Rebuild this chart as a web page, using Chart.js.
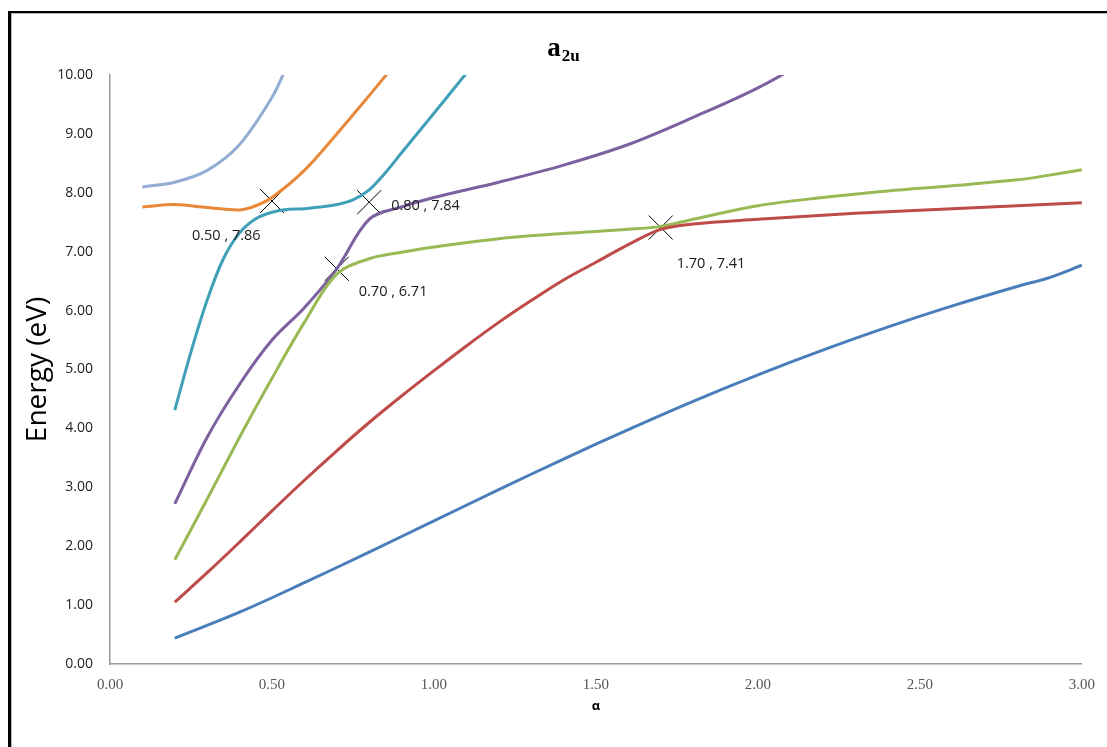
<!DOCTYPE html>
<html>
<head>
<meta charset="utf-8">
<script src="https://cdn.jsdelivr.net/npm/chart.js@4/dist/chart.umd.min.js"></script>
<style>
  html, body { margin: 0; padding: 0; background: #fff; }
  #wrap { position: relative; width: 1107px; height: 747px; }
</style>
</head>
<body>
<div id="wrap"><canvas id="c" width="1107" height="747"></canvas></div>
<script>
// Energy levels (eV) of the a2u states versus alpha
const alphaBlue   = [0.2, 0.4, 0.6, 0.8, 1.0, 1.2, 1.4, 1.6, 1.8, 2.0, 2.2, 2.4, 2.6, 2.8, 2.9, 3.0];
const energyBlue  = [0.44, 0.88, 1.38, 1.90, 2.43, 2.96, 3.48, 3.98, 4.46, 4.91, 5.33, 5.72, 6.08, 6.41, 6.56, 6.77];

const alphaRed    = [0.2, 0.3, 0.4, 0.5, 0.6, 0.7, 0.8, 0.9, 1.0, 1.1, 1.2, 1.3, 1.4, 1.5, 1.6, 1.7, 1.8, 2.0, 2.2, 2.4, 2.6, 2.8, 3.0];
const energyRed   = [1.05, 1.55, 2.07, 2.60, 3.12, 3.62, 4.10, 4.55, 4.98, 5.40, 5.80, 6.17, 6.52, 6.82, 7.12, 7.38, 7.47, 7.55, 7.62, 7.68, 7.73, 7.78, 7.83];

const alphaGreen  = [0.2, 0.3, 0.4, 0.5, 0.6, 0.7, 0.8, 0.9, 1.0, 1.2, 1.4, 1.6, 1.7, 1.8, 2.0, 2.2, 2.4, 2.6, 2.8, 2.9, 3.0];
const energyGreen = [1.77, 2.80, 3.85, 4.85, 5.80, 6.62, 6.88, 6.99, 7.08, 7.22, 7.31, 7.38, 7.43, 7.55, 7.78, 7.92, 8.03, 8.12, 8.22, 8.30, 8.39];

const alphaPurple  = [0.2, 0.3, 0.4, 0.5, 0.6, 0.7, 0.8, 0.9, 1.0, 1.2, 1.4, 1.6, 1.8, 2.0, 2.2];
const energyPurple = [2.72, 3.85, 4.75, 5.50, 6.05, 6.71, 7.55, 7.76, 7.92, 8.18, 8.47, 8.82, 9.28, 9.78, 10.40];

const alphaCyan   = [0.2, 0.25, 0.3, 0.35, 0.4, 0.45, 0.5, 0.55, 0.6, 0.65, 0.7, 0.75, 0.8, 0.85, 0.9, 1.0, 1.1];
const energyCyan  = [4.31, 5.30, 6.18, 6.88, 7.32, 7.56, 7.67, 7.72, 7.73, 7.76, 7.80, 7.88, 8.05, 8.34, 8.68, 9.35, 10.03];

const alphaOrange  = [0.1, 0.2, 0.3, 0.4, 0.45, 0.5, 0.6, 0.7, 0.8, 0.86];
const energyOrange = [7.76, 7.80, 7.75, 7.71, 7.78, 7.92, 8.38, 9.00, 9.65, 10.05];

const alphaSky    = [0.1, 0.2, 0.3, 0.4, 0.5, 0.55];
const energySky   = [8.10, 8.18, 8.38, 8.82, 9.62, 10.20];

// Marked crossing points
const crossAlpha  = [0.50, 0.80, 0.70, 1.70];
const crossEnergy = [7.86, 7.84, 6.71, 7.41];

// Axis ticks
const xTicks = [0, 0.5, 1.0, 1.5, 2.0, 2.5, 3.0];
const yTicks = [0, 1, 2, 3, 4, 5, 6, 7, 8, 9, 10];

// Label placement for each crossing point (pixel offset of the text's left/middle)
const crossLabelOffsets = [[-80, 35], [22, 4], [22, 23], [16, 36]];

function pts(xs, ys) { return xs.map((x, i) => ({ x: x, y: ys[i] })); }

function curve(xs, ys, color) {
  return {
    data: pts(xs, ys),
    showLine: true,
    borderColor: color,
    backgroundColor: color,
    borderWidth: 3,
    pointRadius: 0,
    pointHoverRadius: 0,
    tension: 0.35,
    fill: false
  };
}

const framePlugin = {
  id: 'frame',
  beforeDraw(chart) {
    const ctx = chart.ctx;
    ctx.save();
    ctx.fillStyle = '#fff';
    ctx.fillRect(0, 0, chart.width, chart.height);
    ctx.fillStyle = '#000';
    ctx.fillRect(8, 11, 3, chart.height - 11);
    ctx.fillRect(8, 11, chart.width - 8, 2);
    ctx.fillStyle = '#b4b4b4';
    ctx.fillRect(11, 13, 1, chart.height - 13);
    ctx.fillRect(11, 13, chart.width - 11, 1);
    ctx.restore();
  },
  afterDraw(chart) {
    const ctx = chart.ctx;
    const xs = chart.scales.x, ys = chart.scales.y;
    ctx.save();
    // title a with subscript 2u
    ctx.fillStyle = '#000';
    ctx.textBaseline = 'alphabetic';
    const big = 'bold 27px "Liberation Serif", "DejaVu Serif", serif';
    const small = 'bold 17px "Liberation Serif", "DejaVu Serif", serif';
    ctx.font = big;
    const wA = ctx.measureText('a').width;
    ctx.font = small;
    const wS = ctx.measureText('2u').width;
    const x0 = 563 - (wA + wS) / 2;
    ctx.font = big;
    ctx.fillText('a', x0, 56);
    ctx.font = small;
    ctx.fillText('2u', x0 + wA + 1, 61);

    // crossing labels
    ctx.font = '14.5px "Open Sans", "Noto Sans", sans-serif';
    ctx.textAlign = 'left';
    ctx.textBaseline = 'middle';
    ctx.fillStyle = '#1a1a1a';
    crossAlpha.forEach((a, i) => {
      const px = xs.getPixelForValue(a);
      const py = ys.getPixelForValue(crossEnergy[i]);
      const txt = a.toFixed(2) + ' , ' + crossEnergy[i].toFixed(2);
      ctx.fillText(txt, px + crossLabelOffsets[i][0], py + crossLabelOffsets[i][1]);
    });
    ctx.restore();
  }
};

new Chart(document.getElementById('c'), {
  type: 'scatter',
  data: {
    datasets: [
      curve(alphaBlue, energyBlue, '#4A7EBB'),
      curve(alphaRed, energyRed, '#BE4B48'),
      curve(alphaGreen, energyGreen, '#98B954'),
      curve(alphaPurple, energyPurple, '#7D60A0'),
      curve(alphaCyan, energyCyan, '#3FA0B8'),
      curve(alphaOrange, energyOrange, '#E8883A'),
      curve(alphaSky, energySky, '#93ACD4'),
      {
        data: pts(crossAlpha, crossEnergy),
        showLine: false,
        pointStyle: 'crossRot',
        pointRadius: 17,
        pointHoverRadius: 17,
        borderColor: '#000',
        backgroundColor: '#000',
        borderWidth: 1
      }
    ]
  },
  options: {
    responsive: false,
    animation: false,
    events: [],
    layout: { padding: { left: 0, right: 20, top: 75, bottom: 33 } },
    plugins: {
      legend: { display: false },
      title: { display: false },
      tooltip: { enabled: false }
    },
    scales: {
      x: {
        type: 'linear',
        min: 0, max: 3,
        afterBuildTicks(scale) { scale.ticks = xTicks.map(v => ({ value: v })); },
        afterFit(scale) { scale.height = 50; },
        grid: { display: false, drawTicks: false, tickLength: 0 },
        border: { display: true, color: '#9a9a9a', width: 1.5 },
        ticks: {
          padding: 12,
          color: '#555',
          font: { family: '"Liberation Serif", "DejaVu Serif", serif', size: 15 },
          callback: v => Number(v).toFixed(2)
        },
        title: {
          display: true,
          text: 'α',
          color: '#000',
          padding: { top: 9, bottom: 0 },
          font: { family: '"Open Sans", "Noto Sans", sans-serif', size: 13, weight: 'bold' }
        }
      },
      y: {
        type: 'linear',
        min: 0, max: 10,
        afterBuildTicks(scale) { scale.ticks = yTicks.map(v => ({ value: v })); },
        afterFit(scale) { scale.width = 110; },
        grid: { display: false, drawTicks: false, tickLength: 0 },
        border: { display: true, color: '#9a9a9a', width: 1.5 },
        ticks: {
          padding: 17,
          color: '#222',
          font: { family: '"Open Sans", "Noto Sans", sans-serif', size: 14 },
          callback: v => Number(v).toFixed(2)
        },
        title: {
          display: true,
          text: 'Energy (eV)',
          color: '#000',
          padding: { top: 21, bottom: 0 },
          font: { family: '"Open Sans", "Noto Sans", sans-serif', size: 28 }
        }
      }
    }
  },
  plugins: [framePlugin]
});
</script>
</body>
</html>
